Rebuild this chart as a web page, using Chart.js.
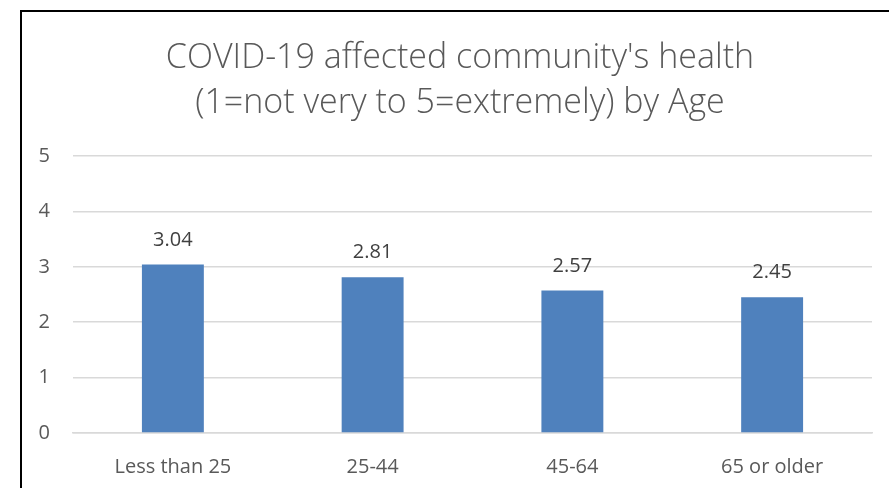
<!DOCTYPE html>
<html lang="en">
<head>
    <meta charset="UTF-8">
    <title>COVID-19 affected community's health by Age</title>
    <script src="https://cdn.jsdelivr.net/npm/chart.js"></script>
    <style>
        body { margin: 0; background: #fff; }
        #wrap { position: relative; width: 889px; height: 488px; overflow: hidden; }
        #ageChart { position: absolute; left: 0; top: 0; }
        #frame { position: absolute; left: 20px; top: 10px; width: 900px; height: 500px;
                 border: 2px solid #000; pointer-events: none; }
    </style>
</head>
<body>
    <div id="wrap">
        <canvas id="ageChart" width="889" height="511"></canvas>
        <div id="frame"></div>
    </div>
    <script>
        const ageGroups = ['Less than 25', '25-44', '45-64', '65 or older'];
        const meanScores = [3.04, 2.81, 2.57, 2.45];
        const titleLines = ["COVID-19 affected community's health", '(1=not very to 5=extremely) by Age'];

        // Excel centres the title on the framed box, not on the plot, so draw it by hand
        const boxTitle = {
            id: 'boxTitle',
            afterDraw(chart) {
                const ctx = chart.ctx;
                ctx.save();
                ctx.font = '300 34px "Open Sans"';
                ctx.fillStyle = '#595959';
                ctx.textAlign = 'center';
                ctx.textBaseline = 'alphabetic';
                titleLines.forEach((line, i) => ctx.fillText(line, 460, 68 + i * 45));
                ctx.restore();
            }
        };

        // numbers above each bar, like Excel data labels
        const barValueLabels = {
            id: 'barValueLabels',
            afterDatasetsDraw(chart) {
                const ctx = chart.ctx;
                const meta = chart.getDatasetMeta(0);
                ctx.save();
                ctx.font = '20px "Open Sans"';
                ctx.fillStyle = '#404040';
                ctx.textAlign = 'center';
                ctx.textBaseline = 'alphabetic';
                meta.data.forEach((bar, i) => {
                    ctx.fillText(meanScores[i].toFixed(2), bar.x, bar.y - 19);
                });
                ctx.restore();
            }
        };

        new Chart(document.getElementById('ageChart'), {
            type: 'bar',
            data: {
                labels: ageGroups,
                datasets: [{
                    data: meanScores,
                    backgroundColor: '#4F81BD',
                    categoryPercentage: 1,
                    barPercentage: 0.31
                }]
            },
            options: {
                responsive: false,
                animation: false,
                layout: { padding: { left: 0, right: 17, top: 156, bottom: 10 } },
                scales: {
                    y: {
                        min: 0,
                        max: 5,
                        ticks: { stepSize: 1, padding: 23, color: '#595959', font: { family: 'Open Sans', size: 20 } },
                        grid: { color: '#D9D9D9', lineWidth: 1.5, drawTicks: false },
                        border: { display: false },
                        afterFit(scale) { scale.width = 73; }
                    },
                    x: {
                        ticks: { padding: 22, color: '#595959', font: { family: 'Open Sans', size: 20 } },
                        grid: { display: false, drawTicks: false },
                        border: { display: true, color: '#D9D9D9', width: 1.5 }
                    }
                },
                plugins: {
                    legend: { display: false },
                    tooltip: { enabled: false },
                    title: { display: false }
                }
            },
            plugins: [barValueLabels, boxTitle]
        });
    </script>
</body>
</html>
